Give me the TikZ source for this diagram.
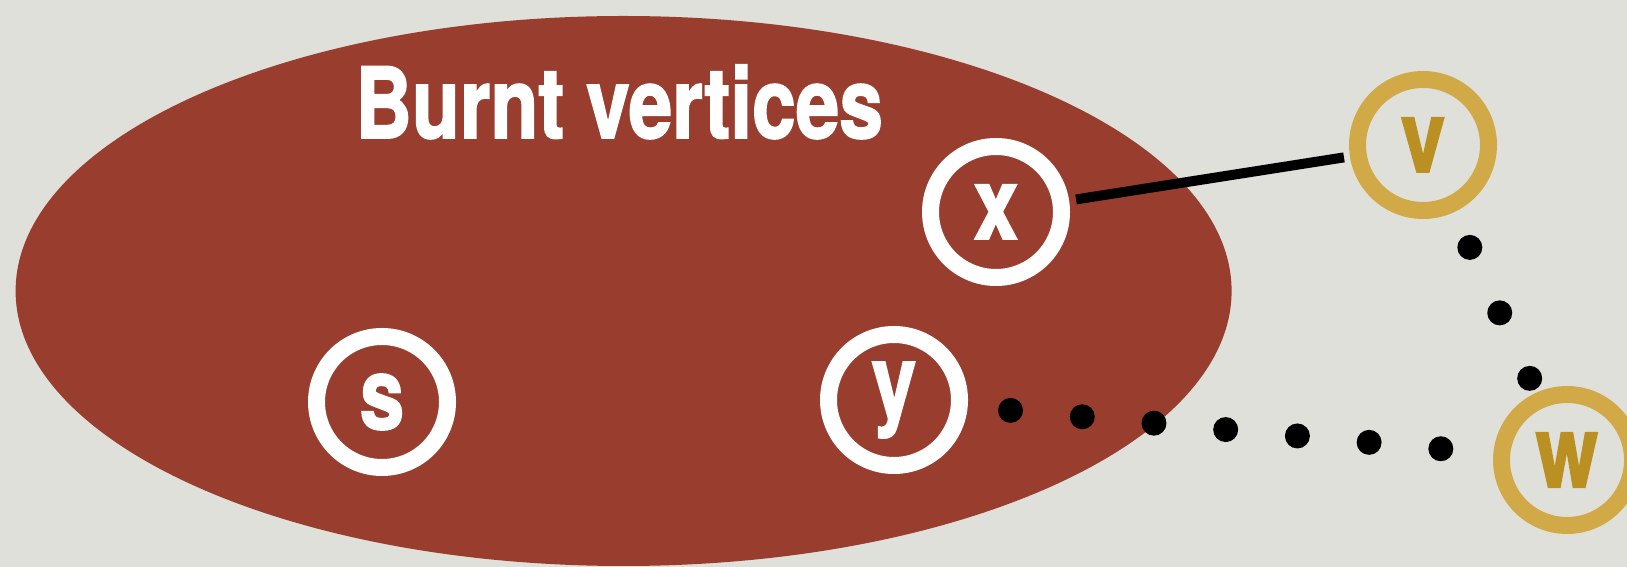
\documentclass[tikz,border=0pt]{standalone}
\usepackage{fontspec}
\usepackage{graphicx}
\usepackage{tikz}
\usetikzlibrary{positioning}
\newfontfamily\heavy{texgyreheros-bold}[Extension=.otf, FakeBold=2]
\definecolor{paper}{RGB}{224,224,219}
\definecolor{burnt}{RGB}{153,62,46}
\definecolor{goldring}{RGB}{209,169,70}
\definecolor{goldtext}{RGB}{186,144,34}
\newcommand{\narrow}[2]{\scalebox{#1}[1]{#2}}

\begin{document}
\begin{tikzpicture}[x=0.5pt,y=0.5pt,
                    b/.style={circle,draw=white,line width=8.5pt,minimum size=65.5pt,inner sep=0pt,
                              text=white,font=\heavy\fontsize{50}{50}\selectfont},
                    u/.style={b,draw=goldring,text=goldtext},
                    dots/.style={line width=12.5pt,line cap=round,dash pattern=on 0pt off 36pt}]
  \useasboundingbox (0,0) rectangle (1627,567);
  \fill[paper] (0,0) rectangle (1627,567);
  \fill[burnt] (623.6,276) ellipse [x radius=608, y radius=275];
  \node[anchor=base west, inner sep=0pt, text=white, font=\heavy\fontsize{49}{49}\selectfont]
    (title) at (355,429) {\narrow{0.8}{Burnt vertices}};
  \node[b] (s) at (382,165) {\narrow{0.8}{s}};
  \node[b] (x) at (996,355) {\narrow{0.8}{x}};
  \node[b] (y) at (894,167) {\narrow{0.8}{y}};
  \node[u] (v) at (1423,422) {\narrow{0.8}{v}};
  \node[u] (w) at (1567,107) {\narrow{0.8}{w}};
  \draw[line width=5pt, shorten <=3.5pt, shorten >=3pt] (x) -- (v);
  \draw[dots, shorten <=21.5pt, shorten >=25pt] (y) -- (w);
  \draw[dots, shorten <=19.3pt] (v) -- (w);
\end{tikzpicture}
\end{document}
